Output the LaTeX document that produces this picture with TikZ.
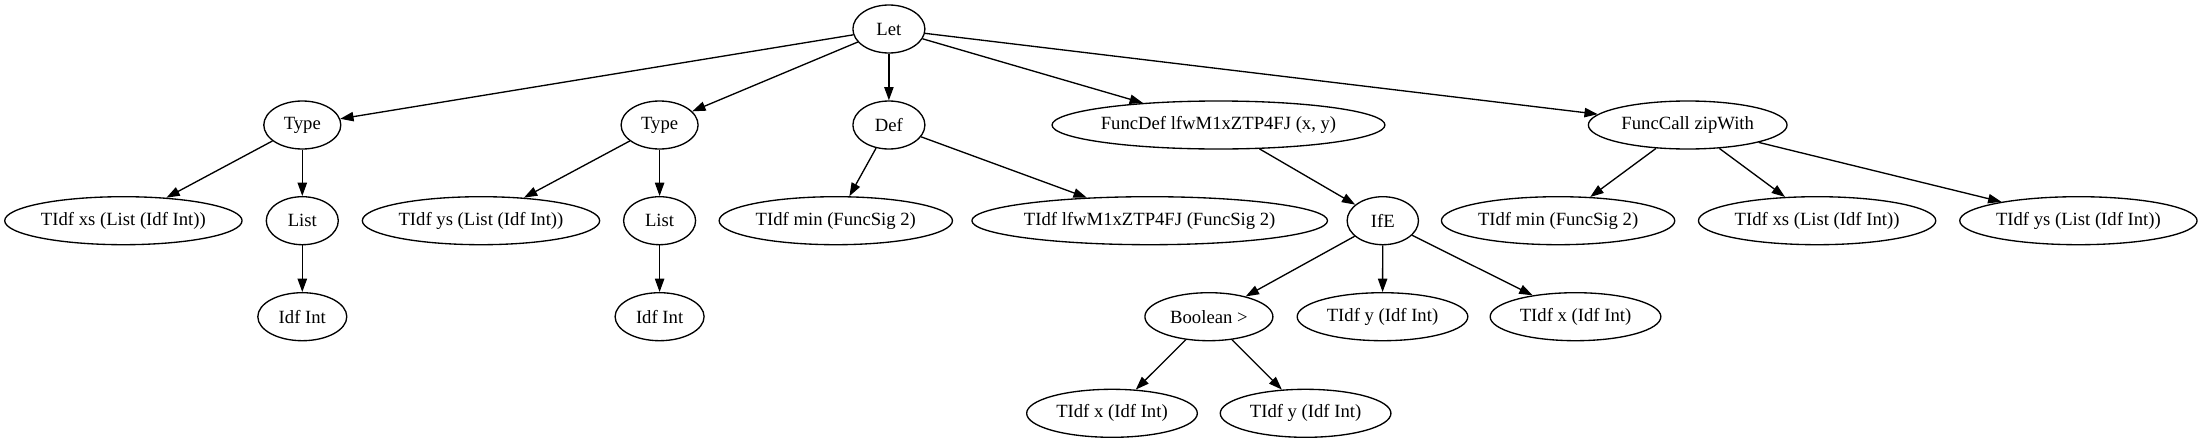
\documentclass[tikz,border=0pt]{standalone}
\usepackage{fontspec}
\setmainfont{Liberation Serif}
\usetikzlibrary{shapes.geometric, arrows.meta}
\newcommand{\treefontsize}{\fontsize{14}{16}\selectfont}
\tikzset{
  every picture/.style = {font=\treefontsize, line join=round},
  astnode/.style       = {ellipse, draw, line width=1pt, inner sep=0pt,
                          minimum height=36pt},
  link/.style          = {line width=1pt, -{Triangle[length=10pt, width=7pt]}},
}

\begin{document}
\begin{tikzpicture}[x=0.75pt, y=-0.75pt]   % one unit = one pixel of the 2203x443 frame
  \useasboundingbox (0,0) rectangle (2203,443);

  % ---------- rank 0 and 1 ----------------------------------------------------
  \node[astnode, minimum width=54pt]     (let)      at (888.9,29)   {Let};
  \node[astnode, minimum width=57.75pt]  (type1)    at (302.3,125)  {Type};
  \node[astnode, minimum width=57.75pt]  (type2)    at (659.6,125)  {Type};
  \node[astnode, minimum width=54pt]     (def)      at (888.9,125)  {Def};
  \node[astnode, minimum width=245.25pt] (funcdef)  at (1218.5,125) {FuncDef lfwM1xZTP4FJ (x, y)};
  \node[astnode, minimum width=149pt]    (funccall) at (1687.7,125) {FuncCall zipWith};

  % ---------- rank 2 ----------------------------------------------------------
  \node[astnode, minimum width=178pt]   (xs1)   at (123.4,220.7)  {TIdf xs (List (Idf Int))};
  \node[astnode, minimum width=54pt]    (list1) at (302.3,220.7)  {List};
  \node[astnode, minimum width=178pt]   (ys1)   at (481,220.7)    {TIdf ys (List (Idf Int))};
  \node[astnode, minimum width=54pt]    (list2) at (659.6,220.7)  {List};
  \node[astnode, minimum width=175pt]   (min1)  at (835.8,220.7)  {TIdf min (FuncSig 2)};
  \node[astnode, minimum width=259.7pt] (lfw)   at (1149.7,220.7) {TIdf lfwM1xZTP4FJ (FuncSig 2)};
  \node[astnode, minimum width=53.5pt]  (ife)   at (1382.8,220.7) {IfE};
  \node[astnode, minimum width=175pt]   (min2)  at (1558.1,220.7) {TIdf min (FuncSig 2)};
  \node[astnode, minimum width=178pt]   (xs2)   at (1817.1,220.7) {TIdf xs (List (Idf Int))};
  \node[astnode, minimum width=178pt]   (ys2)   at (2078.4,220.7) {TIdf ys (List (Idf Int))};

  % ---------- rank 3 and 4 ----------------------------------------------------
  \node[astnode, minimum width=66.75pt] (int1) at (302.3,316.7)  {Idf Int};
  \node[astnode, minimum width=66.75pt] (int2) at (659.6,316.7)  {Idf Int};
  \node[astnode, minimum width=96pt]    (gt)   at (1208.9,316.7) {Boolean >};
  \node[astnode, minimum width=128pt]   (y1)   at (1382.5,316.7) {TIdf y (Idf Int)};
  \node[astnode, minimum width=128pt]   (x1)   at (1575.5,316.7) {TIdf x (Idf Int)};
  \node[astnode, minimum width=128pt]   (x2)   at (1112,413.3)   {TIdf x (Idf Int)};
  \node[astnode, minimum width=128pt]   (y2)   at (1305.6,413.3) {TIdf y (Idf Int)};

  % edges, parent to child
  \foreach \p/\c in {let/type1, let/type2, let/def, let/funcdef, let/funccall,
                     type1/xs1, type1/list1, list1/int1,
                     type2/ys1, type2/list2, list2/int2,
                     def/min1, def/lfw, funcdef/ife,
                     ife/gt, ife/y1, ife/x1, gt/x2, gt/y2,
                     funccall/min2, funccall/xs2, funccall/ys2}
    \draw[link] (\p) -- (\c);
\end{tikzpicture}
\end{document}
